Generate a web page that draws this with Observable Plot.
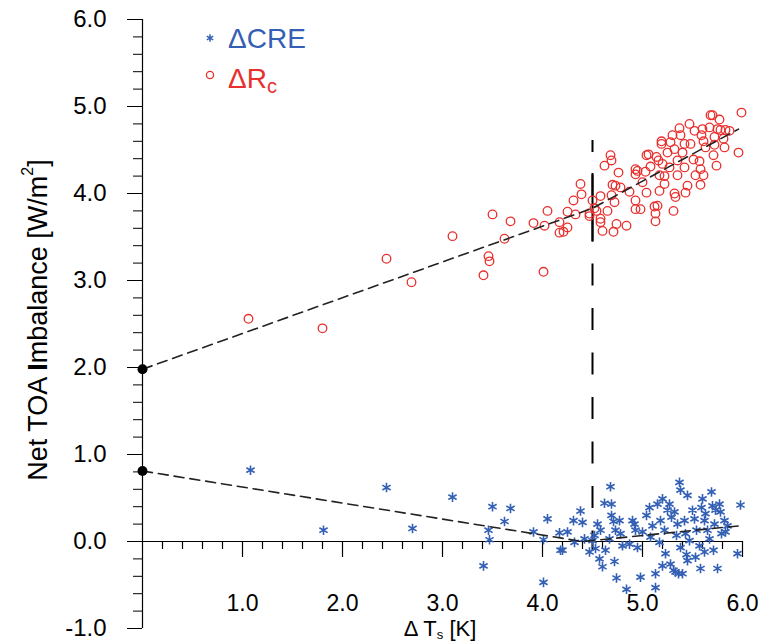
<!DOCTYPE html>
<html><head><meta charset="utf-8">
<script src="https://cdn.jsdelivr.net/npm/d3@7"></script>
<script src="https://cdn.jsdelivr.net/npm/@observablehq/plot@0.6"></script>
<style>body{margin:0;background:#fff}svg{display:block}</style>
</head><body><div id="chart"></div>
<script>
// ΔRc (red circles)
const rcTs  = [1.06,1.80,2.44,2.69,3.10,3.41,3.46,3.47,3.50,3.62,3.68,3.91,4.02,4.01,4.05,4.17,4.21,4.17,4.25,4.25,4.31,4.33,4.38,4.39,4.47,4.47,4.50,4.52,4.54,4.58,4.58,4.58,4.60,4.62,4.68,4.69,4.65,4.70,4.72,4.71,4.74,4.76,4.69,4.73,4.78,4.84,4.87,4.93,4.93,4.93,4.93,4.98,4.95,5.00,5.04,5.06,5.04,5.03,5.08,5.12,5.13,5.13,5.15,5.14,5.16,5.17,5.17,5.19,5.19,5.20,5.22,5.22,5.25,5.27,5.28,5.30,5.31,5.32,5.32,5.33,5.35,5.35,5.37,5.38,5.40,5.42,5.42,5.43,5.45,5.47,5.48,5.51,5.52,5.53,5.57,5.58,5.58,5.60,5.59,5.61,5.61,5.63,5.67,5.68,5.70,5.71,5.72,5.74,5.77,5.75,5.78,5.81,5.82,5.83,5.87,5.96,5.99,5.72];
const rcNet = [2.56,2.45,3.25,2.98,3.51,3.06,3.28,3.22,3.76,3.48,3.68,3.66,3.63,3.10,3.80,3.55,3.56,3.67,3.61,3.79,3.92,3.76,4.11,3.99,3.77,3.74,3.92,3.83,3.80,3.71,3.67,3.97,3.57,4.32,4.44,4.38,3.80,4.10,3.90,3.56,3.65,4.24,3.98,4.09,4.07,3.63,4.02,4.28,4.22,3.92,3.82,3.82,4.26,4.13,4.44,4.45,4.01,4.25,4.31,3.85,3.77,3.68,3.86,4.42,4.38,4.21,4.03,4.60,4.57,4.34,4.11,4.20,4.47,4.30,4.59,4.67,3.80,4.51,4.00,3.96,4.21,4.38,4.75,4.67,4.47,4.30,4.57,4.01,4.09,4.80,4.57,4.39,4.72,4.21,4.37,4.28,4.10,4.74,4.67,4.60,4.21,4.53,4.76,4.90,4.90,4.44,4.56,4.32,4.85,4.74,4.73,4.63,4.53,4.73,4.72,4.47,4.93,4.65];
// ΔCRE (blue stars)
const creTs  = [1.08,1.81,2.44,2.70,3.10,3.41,3.46,3.47,3.50,3.62,3.68,3.91,4.01,4.01,4.05,4.17,4.18,4.20,4.25,4.31,4.32,4.38,4.40,4.42,4.47,4.50,4.52,4.53,4.55,4.57,4.58,4.60,4.62,4.63,4.67,4.68,4.69,4.69,4.71,4.72,4.73,4.74,4.77,4.78,4.80,4.84,4.87,4.90,4.92,4.93,4.95,4.98,5.00,5.04,5.07,5.08,5.10,5.13,5.13,5.15,5.17,5.18,5.20,5.20,5.22,5.23,5.25,5.27,5.28,5.29,5.31,5.32,5.33,5.34,5.35,5.36,5.37,5.38,5.38,5.40,5.42,5.43,5.44,5.45,5.45,5.47,5.50,5.52,5.53,5.54,5.57,5.58,5.59,5.60,5.62,5.62,5.63,5.65,5.67,5.69,5.70,5.71,5.72,5.73,5.75,5.77,5.78,5.79,5.82,5.83,5.85,5.95,5.98];
const creNet = [0.82,0.13,0.62,0.15,0.51,-0.28,0.13,0.02,0.40,0.23,0.38,0.11,0.02,-0.47,0.26,0.10,-0.10,-0.10,0.11,0.24,-0.01,0.35,0.22,0.03,-0.12,0.01,0.07,-0.08,0.20,-0.20,0.13,-0.29,0.44,-0.10,0.03,0.63,0.43,0.30,0.23,-0.23,0.13,-0.42,0.24,0.09,-0.05,-0.55,-0.03,0.24,0.20,0.13,-0.07,-0.41,0.11,0.30,0.39,0.05,0.18,-0.37,-0.53,0.43,-0.01,0.24,0.49,-0.28,0.13,-0.14,0.36,0.43,-0.26,0.28,-0.33,0.34,-0.35,0.07,0.20,-0.37,0.68,0.59,-0.07,-0.37,0.24,0.09,-0.15,0.53,-0.22,0.01,0.36,0.26,-0.18,0.13,-0.05,-0.31,0.39,0.49,0.24,-0.12,0.32,0.13,0.03,0.57,0.41,-0.10,0.20,0.36,-0.31,0.43,0.34,0.09,0.24,0.11,0.18,-0.14,0.42];
// fitted dashed lines
const rcFitTs = [0, 4.5, 5.96];
const rcFitNet = [1.98, 3.83, 4.74];
const creFitTs = [0, 4.4, 5.97];
const creFitNet = [0.81, 0.0, 0.18];
const intercepts = [1.98, 0.81];
// threshold line
const thresholdTs = 4.5;
const thresholdRange = [4.61, -0.1];
const thresholdSolid = [4.23, 3.44];
// axes
const xDomain = [0, 6];
const yDomain = [-1, 6];
const xMajor = [1, 2, 3, 4, 5, 6];
const yMajor = [-1, 0, 1, 2, 3, 4, 5, 6];
const xMinor = d3.range(1, 30).map(i => i / 5).filter(v => Math.abs(v - Math.round(v)) > 1e-6);
const yMinor = d3.range(-5, 31).map(i => i / 5).filter(v => Math.abs(v - Math.round(v)) > 1e-6);

const BLUE = "#3360b4", RED = "#e8302e";
const rc = rcTs.map((t, i) => ({t, v: rcNet[i]}));
const cre = creTs.map((t, i) => ({t, v: creNet[i]}));
const rcFit = rcFitTs.map((t, i) => ({t, v: rcFitNet[i]}));
const creFit = creFitTs.map((t, i) => ({t, v: creFitNet[i]}));
const FONT = "Liberation Sans, Arial, sans-serif";

const chart = Plot.plot({
  width: 769, height: 643,
  marginLeft: 142, marginRight: 27, marginTop: 19, marginBottom: 15,
  x: {domain: xDomain, axis: null},
  y: {domain: yDomain, axis: null},
  style: {fontFamily: FONT, background: "white", color: "black"},
  marks: [
    Plot.axisY(yMinor, {tickSize: 9, fill: "none", label: null}),
    Plot.axisY(yMajor, {tickSize: 15, tickPadding: 21, tickFormat: d => d.toFixed(1), fontSize: 24, label: null}),
    Plot.axisX(xMajor, {anchor: "bottom", tickSize: 0, tickPadding: 0, dy: -34, tickFormat: d => d.toFixed(1), fontSize: 23, label: null}),
    Plot.ruleX([xDomain[0]], {stroke: "black", strokeWidth: 1.2}),
    Plot.ruleY([0], {stroke: "black", strokeWidth: 1.2}),
    Plot.ruleX(xMajor, {y1: 0, y2: 0, insetBottom: -16, stroke: "black", strokeWidth: 1.2}),
    Plot.ruleX(xMinor, {y1: 0, y2: 0, insetBottom: -8, stroke: "black", strokeWidth: 1.2}),
    Plot.ruleX([thresholdTs], {y1: thresholdRange[0], y2: thresholdRange[1], stroke: "black", strokeWidth: 2, strokeDasharray: "22,22.5", strokeDashoffset: 10}),
    Plot.ruleX([thresholdTs], {y1: thresholdSolid[0], y2: thresholdSolid[1], stroke: "black", strokeWidth: 2}),
    Plot.dot(rc, {x: "t", y: "v", r: 4.3, stroke: RED, strokeWidth: 1.3, fill: "none"}),
    Plot.dot(cre, {x: "t", y: "v", r: 4.5, symbol: "asterisk", stroke: BLUE, strokeWidth: 1.6}),
    Plot.line(rcFit, {x: "t", y: "v", stroke: "#222", strokeWidth: 1.6, strokeDasharray: "10,6"}),
    Plot.line(creFit, {x: "t", y: "v", stroke: "#222", strokeWidth: 1.6, strokeDasharray: "10,6"}),
    Plot.dot(intercepts, {x: xDomain[0], y: d => d, r: 5, fill: "black"})
  ]
});
document.getElementById("chart").appendChild(chart);

const svg = d3.select(chart);
// y axis title
const yt = svg.append("text")
  .attr("transform", "translate(38,320) rotate(-90)")
  .attr("text-anchor", "middle").attr("dominant-baseline", "central")
  .style("font-family", FONT).style("font-size", "27px").attr("fill", "black");
yt.append("tspan").text("Net TOA ");
yt.append("tspan").attr("font-weight", "bold").text("I");
yt.append("tspan").text("mbalance [W/m");
yt.append("tspan").attr("dy", -11).attr("font-size", "16px").text("2");
yt.append("tspan").attr("dy", 11).text("]");
// x axis title
const xt = svg.append("text")
  .attr("x", 440).attr("y", 636)
  .attr("text-anchor", "middle")
  .style("font-family", FONT).style("font-size", "22px").attr("fill", "black");
xt.append("tspan").text("Δ T");
xt.append("tspan").attr("dy", 3).attr("font-size", "13px").text("s");
xt.append("tspan").attr("dy", -3).text(" [K]");
// legend
const lg = svg.append("g").style("font-family", FONT).attr("text-anchor", "start");
lg.append("path").attr("transform", "translate(210,38)")
  .attr("d", d3.symbol(d3.symbolAsterisk, 3.5 * 3.5 * Math.PI)())
  .attr("stroke", BLUE).attr("stroke-width", 1.5).attr("fill", "none");
lg.append("text").attr("x", 228).attr("y", 48).attr("text-anchor", "start").attr("fill", BLUE).style("font-size", "28px").text("ΔCRE");
lg.append("circle").attr("cx", 210).attr("cy", 75).attr("r", 3.6)
  .attr("stroke", RED).attr("stroke-width", 1.3).attr("fill", "none");
const t2 = lg.append("text").attr("x", 228).attr("y", 88).attr("text-anchor", "start").attr("fill", RED).style("font-size", "28px");
t2.append("tspan").text("ΔR");
t2.append("tspan").attr("dy", 5).attr("font-size", "20px").text("c");
</script>
</body></html>
